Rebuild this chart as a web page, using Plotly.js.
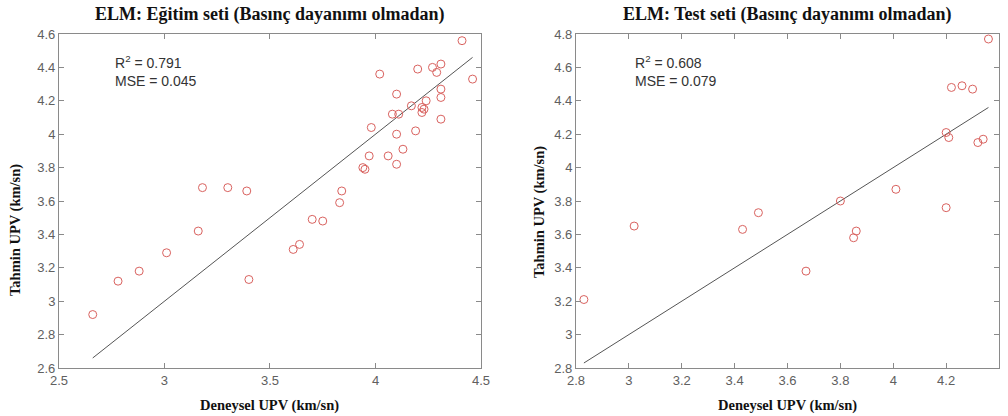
<!DOCTYPE html>
<html><head><meta charset="utf-8">
<script src="https://cdn.plot.ly/plotly-3.0.1.min.js"></script>
<style>html,body{margin:0;padding:0;background:#fff}</style>
</head><body>
<div id="chart" style="width:1008px;height:416px"></div>
<script>
// Training set (Eğitim seti)
const trainActual = [2.66,2.78,2.88,3.01,3.16,3.18,3.30,3.39,3.40,3.61,3.64,3.70,3.75,3.83,3.84,3.94,3.95,3.97,3.98,4.02,4.06,4.08,4.10,4.10,4.10,4.11,4.13,4.17,4.19,4.20,4.22,4.23,4.22,4.24,4.27,4.29,4.31,4.31,4.31,4.31,4.41,4.46];
const trainPred   = [2.92,3.12,3.18,3.29,3.42,3.68,3.68,3.66,3.13,3.31,3.34,3.49,3.48,3.59,3.66,3.80,3.79,3.87,4.04,4.36,3.87,4.12,3.82,4.00,4.24,4.12,3.91,4.17,4.02,4.39,4.13,4.15,4.16,4.20,4.40,4.37,4.42,4.27,4.22,4.09,4.56,4.33];
// Test set
const testActual = [2.83,3.02,3.43,3.49,3.67,3.80,3.85,3.86,4.01,4.20,4.20,4.21,4.22,4.26,4.30,4.32,4.34,4.36];
const testPred   = [3.21,3.65,3.63,3.73,3.38,3.80,3.58,3.62,3.87,3.76,4.21,4.18,4.48,4.49,4.47,4.15,4.17,4.77];
const trainStats = {r2: '0.791', mse: '0.045'};
const testStats  = {r2: '0.608', mse: '0.079'};
const titles = ['ELM: Eğitim seti (Basınç dayanımı olmadan)', 'ELM: Test seti (Basınç dayanımı olmadan)'];
const xLabel = 'Deneysel UPV (km/sn)';
const yLabel = 'Tahmin UPV (km/sn)';

// y = x reference line across data range
function idLine(a){ const lo=Math.min(...a), hi=Math.max(...a); return [lo,hi]; }
const trLine = idLine(trainActual), teLine = idLine(testActual);

const mk = {symbol:'circle-open', size:8, color:'#d9625f', line:{width:1, color:'#d9625f'}};
const data = [
  {x:trLine, y:trLine, mode:'lines', line:{color:'#555', width:1}, xaxis:'x', yaxis:'y', hoverinfo:'skip'},
  {x:trainActual, y:trainPred, mode:'markers', marker:mk, xaxis:'x', yaxis:'y'},
  {x:teLine, y:teLine, mode:'lines', line:{color:'#555', width:1}, xaxis:'x2', yaxis:'y2', hoverinfo:'skip'},
  {x:testActual, y:testPred, mode:'markers', marker:mk, xaxis:'x2', yaxis:'y2'}
];
const axBase = {showgrid:false, zeroline:false, showline:true, linecolor:'#8a8a8a', linewidth:1, mirror:'ticks',
  ticks:'inside', ticklen:5, tickcolor:'#8a8a8a', tickfont:{family:'Liberation Sans, Arial', size:13, color:'#606060'}};
const serif = 'Liberation Serif, Times New Roman';
function ticks(a,b,s){ const v=[]; for(let t=a; t<=b+1e-9; t+=s) v.push(+t.toFixed(2)); return v; }
const d1 = [0.0585,0.4772], d2 = [0.5714,0.9911];
const lblFont = {family:serif, size:14.5, color:'#111'};
const layout = {
  width:1008, height:416, showlegend:false, paper_bgcolor:'#fff', plot_bgcolor:'#fff',
  margin:{l:0, r:0, t:34, b:48},
  xaxis:Object.assign({}, axBase, {domain:d1, range:[2.5,4.5], tickvals:ticks(2.5,4.5,0.5), anchor:'y'}),
  yaxis:Object.assign({}, axBase, {domain:[0,1], range:[2.6,4.6], tickvals:ticks(2.6,4.6,0.2), anchor:'x'}),
  xaxis2:Object.assign({}, axBase, {domain:d2, range:[2.8,4.4], tickvals:ticks(2.8,4.4,0.2), anchor:'y2'}),
  yaxis2:Object.assign({}, axBase, {domain:[0,1], range:[2.8,4.8], tickvals:ticks(2.8,4.8,0.2), anchor:'x2'}),
  annotations:[
    {text:'<b>'+titles[0]+'</b>', xref:'paper', yref:'paper', x:(d1[0]+d1[1])/2, y:1, yshift:20, xanchor:'center', yanchor:'middle', showarrow:false,
     font:{family:serif, size:18, color:'#111'}},
    {text:'<b>'+titles[1]+'</b>', xref:'paper', yref:'paper', x:(d2[0]+d2[1])/2, y:1, yshift:20, xanchor:'center', yanchor:'middle', showarrow:false,
     font:{family:serif, size:18, color:'#111'}},
    {text:'<b>'+xLabel+'</b>', xref:'paper', yref:'paper', x:(d1[0]+d1[1])/2, y:0, yshift:-37, xanchor:'center', yanchor:'middle', showarrow:false, font:lblFont},
    {text:'<b>'+xLabel+'</b>', xref:'paper', yref:'paper', x:(d2[0]+d2[1])/2, y:0, yshift:-37, xanchor:'center', yanchor:'middle', showarrow:false, font:lblFont},
    {text:'<b>'+yLabel+'</b>', xref:'paper', yref:'paper', x:15/1008, y:(368-230)/334, textangle:-90, xanchor:'center', yanchor:'middle', showarrow:false, font:lblFont},
    {text:'<b>'+yLabel+'</b>', xref:'paper', yref:'paper', x:539/1008, y:(368-212)/334, textangle:-90, xanchor:'center', yanchor:'middle', showarrow:false, font:lblFont},
    {text:'R<sup>2</sup> = '+trainStats.r2+'<br>MSE = '+trainStats.mse, xref:'x', yref:'y', x:2.755, y:4.50, xanchor:'left', yanchor:'top', align:'left', showarrow:false,
     font:{family:'Liberation Sans, Arial', size:14, color:'#333'}},
    {text:'R<sup>2</sup> = '+testStats.r2+'<br>MSE = '+testStats.mse, xref:'x2', yref:'y2', x:3.014, y:4.70, xanchor:'left', yanchor:'top', align:'left', showarrow:false,
     font:{family:'Liberation Sans, Arial', size:14, color:'#333'}}
  ]
};
Plotly.newPlot('chart', data, layout, {displayModeBar:false, staticPlot:true});
</script>
</body></html>
